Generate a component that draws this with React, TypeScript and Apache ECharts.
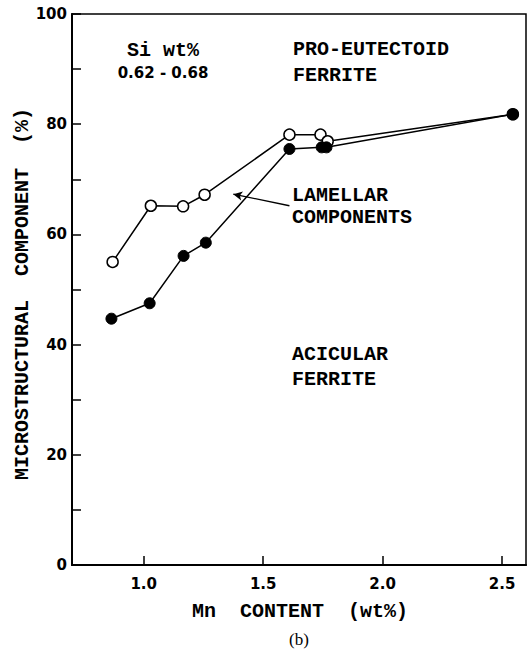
import React, { useEffect, useRef } from "react";
import * as echarts from "echarts";

const mnOpen = [0.87, 1.03, 1.165, 1.255, 1.61, 1.74, 1.77, 2.545];
const openVals = [55.0, 65.2, 65.1, 67.2, 78.1, 78.1, 76.9, 81.8];
const mnFilled = [0.865, 1.025, 1.167, 1.26, 1.61, 1.745, 1.765, 2.545];
const filledVals = [44.7, 47.5, 56.1, 58.5, 75.5, 75.8, 75.8, 81.8];
const xTickValues = [1.0, 1.5, 2.0, 2.5];
const arrowFrom = [1.61, 65.2];
const arrowTo = [1.375, 67.3];

const MONO = "'Liberation Mono', 'Courier New', monospace";
const SANS = "'DejaVu Sans', sans-serif";

export default function App() {
  const ref = useRef<HTMLDivElement>(null);
  useEffect(() => {
    document.body.style.margin = "0";
    if (!ref.current) return;
    const chart = echarts.init(ref.current, undefined, { renderer: "svg" });
    const monoText = (text: string, x: number, y: number, align = "left", rotation = 0) => ({
      type: "text",
      x,
      y,
      rotation,
      style: {
        text,
        fill: "#000",
        font: `bold 20px ${MONO}`,
        textAlign: align,
        textVerticalAlign: "middle",
      },
    });
    chart.setOption({
      animation: false,
      backgroundColor: "#fff",
      grid: {
        left: 72,
        right: 4,
        top: 14,
        bottom: 91,
        show: true,
        borderColor: "#000",
        borderWidth: 1.5,
        backgroundColor: "transparent",
      },
      xAxis: {
        type: "value",
        min: 0.7,
        max: 2.6,
        axisLine: { show: true, onZero: false, lineStyle: { color: "#000", width: 2 } },
        splitLine: { show: false },
        axisTick: {
          show: true,
          inside: true,
          length: 9,
          customValues: xTickValues,
          lineStyle: { color: "#000", width: 1.5 },
        },
        axisLabel: {
          customValues: xTickValues,
          formatter: (v: number) => v.toFixed(1),
          color: "#000",
          fontFamily: SANS,
          fontWeight: "bold",
          fontSize: 15,
          margin: 11,
        },
      },
      yAxis: {
        type: "value",
        min: 0,
        max: 100,
        interval: 10,
        axisLine: { show: true, onZero: false, lineStyle: { color: "#000", width: 2 } },
        splitLine: { show: false },
        axisTick: { show: true, inside: true, length: 9, lineStyle: { color: "#000", width: 1.5 } },
        axisLabel: {
          formatter: (v: number) => (v % 20 === 0 ? String(v) : ""),
          color: "#000",
          fontFamily: SANS,
          fontWeight: "bold",
          fontSize: 15,
          margin: 5,
        },
      },
      series: [
        {
          type: "line",
          name: "open",
          data: mnOpen.map((x, i) => [x, openVals[i]]),
          symbol: "circle",
          symbolSize: 11,
          showAllSymbol: true,
          lineStyle: { color: "#000", width: 1.5 },
          itemStyle: { color: "#fff", borderColor: "#000", borderWidth: 1.5 },
          z: 2,
          markLine: {
            silent: true,
            symbol: ["none", "arrow"],
            symbolSize: [7, 9],
            label: { show: false },
            lineStyle: { color: "#000", width: 1.3, type: "solid" },
            data: [[{ coord: arrowFrom }, { coord: arrowTo }]],
          },
        },
        {
          type: "line",
          name: "filled",
          data: mnFilled.map((x, i) => [x, filledVals[i]]),
          symbol: "circle",
          symbolSize: 11,
          showAllSymbol: true,
          lineStyle: { color: "#000", width: 1.5 },
          itemStyle: { color: "#000", borderColor: "#000", borderWidth: 1 },
          z: 3,
        },
      ],
      graphic: [
        monoText("Si wt%", 163, 50, "center"),
        {
          type: "text",
          x: 163,
          y: 73,
          style: {
            text: "0.62 - 0.68",
            fill: "#000",
            font: `bold 15px ${SANS}`,
            textAlign: "center",
            textVerticalAlign: "middle",
          },
        },
        monoText("PRO-EUTECTOID", 293, 49),
        monoText("FERRITE", 293, 75),
        monoText("LAMELLAR", 292, 195),
        monoText("COMPONENTS", 292, 217),
        monoText("ACICULAR", 292, 354),
        monoText("FERRITE", 292, 379),
        monoText("MICROSTRUCTURAL  COMPONENT  (%)", 22, 294, "center", Math.PI / 2),
        monoText("Mn  CONTENT  (wt%)", 300, 611, "center"),
        {
          type: "text",
          x: 299,
          y: 639,
          style: {
            text: "(b)",
            fill: "#000",
            font: `17px 'Liberation Serif', serif`,
            textAlign: "center",
            textVerticalAlign: "middle",
          },
        },
      ],
    });
    return () => chart.dispose();
  }, []);
  return <div ref={ref} style={{ width: 530, height: 656 }} />;
}
